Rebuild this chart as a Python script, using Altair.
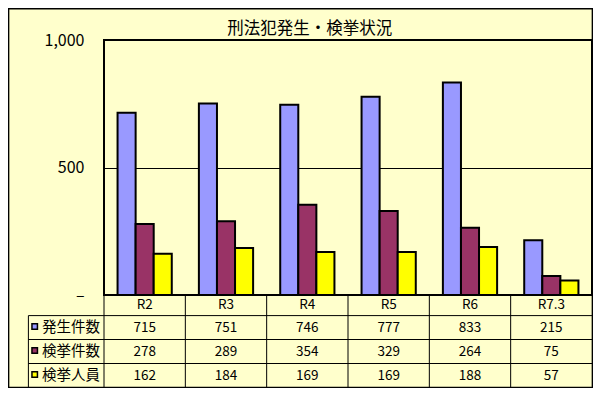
import altair as alt
import pandas as pd

categories = ["R2", "R3", "R4", "R5", "R6", "R7.3"]
series = ["発生件数", "検挙件数", "検挙人員"]
hassei = [715, 751, 746, 777, 833, 215]
kenkyo = [278, 289, 354, 329, 264, 75]
jinin = [162, 184, 169, 169, 188, 57]
colors = ["#9999FF", "#993366", "#FFFF00"]
y_ticks = [0, 500, 1000]
title_text = "刑法犯発生・検挙状況"

rows = []
for s, vals in zip(series, [hassei, kenkyo, jinin]):
    for c, v in zip(categories, vals):
        rows.append({"category": c, "series": s, "value": v})
df = pd.DataFrame(rows)
one = pd.DataFrame({"a": [0]})

W, H = 488, 255
FONT = "Noto Sans CJK JP"
LEG_X = -75.6
TABLE_BOTTOM = 347
row_bounds = [275.6, 299.5, 323.5]
row_y = [287.5, 311.5, 335.5]
header_y = 265.3

x_enc = alt.X("category:N", sort=categories,
              scale=alt.Scale(domain=categories, paddingInner=0, paddingOuter=0),
              axis=None)

bars = alt.Chart(df).mark_bar(stroke="black", strokeWidth=2).encode(
    x=x_enc,
    xOffset=alt.XOffset("series:N", sort=series,
                        scale=alt.Scale(domain=series, paddingInner=0, paddingOuter=0.75)),
    y=alt.Y("value:Q", scale=alt.Scale(domain=[0, 1000], nice=False),
            axis=alt.Axis(values=y_ticks,
                          labelExpr="datum.value == 0 ? '–' : format(datum.value, ',')",
                          ticks=False, labelPadding=20, grid=True, gridColor="black",
                          gridWidth=1, gridOpacity=1, domain=False, title=None,
                          labelFontSize=16, labelFont=FONT, labelColor="black",
                          labelFontWeight="normal")),
    color=alt.Color("series:N", sort=series,
                    scale=alt.Scale(domain=series, range=colors), legend=None),
)

layers = [bars]

# table vertical lines at category boundaries
vlines = alt.Chart(pd.DataFrame({"category": categories})).mark_rule(
    color="black", strokeWidth=1).encode(
    x=alt.X("category:N", sort=categories, bandPosition=0,
            scale=alt.Scale(domain=categories, paddingInner=0, paddingOuter=0), axis=None),
    y=alt.value(H), y2=alt.value(TABLE_BOTTOM))
layers.append(vlines)

# header labels
header = alt.Chart(pd.DataFrame({"category": categories})).mark_text(
    font=FONT, fontSize=13.5, color="black", baseline="middle").encode(
    x=x_enc, y=alt.value(header_y), text="category:N")
layers.append(header)

# horizontal table lines
for yb in row_bounds:
    layers.append(alt.Chart(one).mark_rule(color="black", strokeWidth=1).encode(
        x=alt.value(LEG_X), x2=alt.value(W), y=alt.value(yb)))
layers.append(alt.Chart(one).mark_rule(color="black", strokeWidth=1).encode(
    x=alt.value(LEG_X), y=alt.value(row_bounds[0]), y2=alt.value(TABLE_BOTTOM)))

for i, s in enumerate(series):
    sub = df[df["series"] == s]
    layers.append(alt.Chart(sub).mark_text(
        font=FONT, fontSize=13.5, color="black", baseline="middle").encode(
        x=x_enc, y=alt.value(row_y[i]), text="value:Q"))
    layers.append(alt.Chart(pd.DataFrame({"series": [s]})).mark_point(
        shape="square", filled=True, size=30, stroke="black", strokeWidth=1.5,
        opacity=1).encode(
        x=alt.value(LEG_X + 6.3), y=alt.value(row_y[i] - 1),
        fill=alt.Fill("series:N", scale=alt.Scale(domain=series, range=colors), legend=None)))
    layers.append(alt.Chart(pd.DataFrame({"series": [s]})).mark_text(
        font=FONT, fontSize=14.5, color="black", align="left", baseline="middle").encode(
        x=alt.value(LEG_X + 13.5), y=alt.value(row_y[i]), text="series:N"))

# title
layers.append(alt.Chart(one).mark_text(
    font=FONT, fontSize=16.5, color="black", baseline="middle").encode(
    x=alt.value(205.8), y=alt.value(-11), text=alt.value(title_text)))

# outer frame
layers.append(alt.Chart(one).mark_rect(
    fillOpacity=0, stroke="black", strokeWidth=1.5).encode(
    x=alt.value(-95.4), x2=alt.value(W + 0.4), y=alt.value(-31.3), y2=alt.value(347.4)))

chart = alt.layer(*layers).properties(
    width=W, height=H,
    autosize=alt.AutoSizeParams(type="none"),
    padding={"left": 96, "top": 32, "right": 1, "bottom": 93},
    background="#FFFFCC",
).configure_view(stroke="black", strokeWidth=2)

chart.save("out.html", embed_options={"renderer": "svg", "actions": False})
